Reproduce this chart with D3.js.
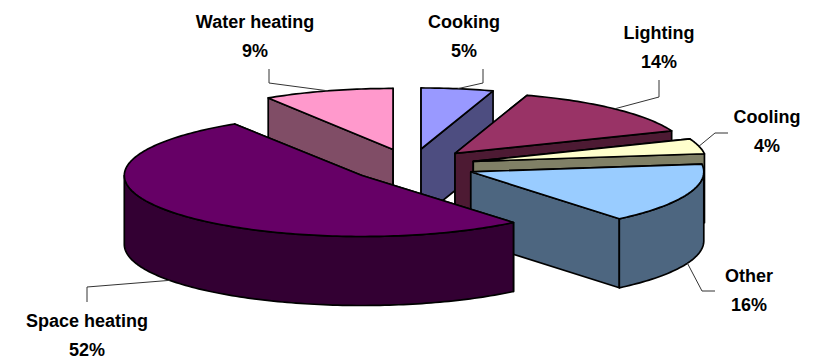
<!DOCTYPE html>
<html>
<head>
<meta charset="utf-8">
<script src="https://cdn.jsdelivr.net/npm/d3@7"></script>
<style>
html,body{margin:0;padding:0;background:#fff}
svg{display:block}
text{font-family:"Liberation Sans",Arial,sans-serif;font-weight:bold;font-size:18px;fill:#000;text-anchor:middle}
</style>
</head>
<body>
<svg id="chart" width="817" height="361"></svg>
<script>
// Household energy use by end use, clockwise from twelve o'clock
const categories = ["Cooking", "Lighting", "Cooling", "Other", "Space heating", "Water heating"];
const shares = [5, 14, 4, 16, 52, 9];
const topColors = ["#9999ff", "#993366", "#ffffcc", "#99ccff", "#660066", "#ff99cc"];

const W = 817, H = 361;
const radiusX = 233, radiusY = 61;
const centerX = 411, centerY = 165.6;
const depth = 69;
const explode = 0.276;
// The large slice nearest the viewer reads slightly wider under perspective
const nearSlice = "Space heating", nearWiden = 1.02, nearShift = 3;

// Unit-circle coordinates onto the tilted plane of the pie
const px = d3.scaleLinear().domain([-1, 1]).range([centerX - radiusX, centerX + radiusX]);
const py = d3.scaleLinear().domain([-1, 1]).range([centerY - radiusY, centerY + radiusY]);

const pie = d3.pie().sort(null).value(d => d).startAngle(0).endAngle(2 * Math.PI);
const arcs = pie(shares).map((a, i) => {
  const mid = (a.startAngle + a.endAngle) / 2;
  const near = categories[i] === nearSlice;
  return {
    i, name: categories[i], value: a.data, color: topColors[i],
    a0: a.startAngle, a1: a.endAngle, mid,
    ox: explode * Math.sin(mid), oy: -explode * Math.cos(mid),
    widen: near ? nearWiden : 1, shift: near ? nearShift : 0
  };
});

function point(s, r, ang, drop) {
  return [
    px(s.ox + s.widen * r * Math.sin(ang)) + s.shift,
    py(s.oy - r * Math.cos(ang)) + (drop || 0)
  ];
}
function rim(s, from, to, drop) {
  const n = Math.max(2, Math.ceil((to - from) / 0.02));
  return d3.range(n + 1).map(k => point(s, 1, from + (to - from) * k / n, drop));
}
const line = d3.line();
const closed = pts => line(pts) + "Z";

// Side faces are the top colour at half brightness
function shade(c) {
  const r = d3.rgb(c);
  return d3.rgb(r.r * 0.5, r.g * 0.5, r.b * 0.5).formatHex();
}

const svg = d3.select("#chart");

// Painter's order: rear slices first, the big front slice last
const order = [5, 0, 1, 2, 3, 4].map(i => arcs[i]);
const groups = svg.selectAll("g.slice").data(order).join("g").attr("class", "slice")
  .attr("stroke", "#000").attr("stroke-width", 1.7).attr("stroke-linejoin", "round");

groups.each(function (s) {
  const g = d3.select(this);
  const side = shade(s.color);
  const apex = point(s, 0, 0), apexLow = point(s, 0, 0, depth);
  [s.a0, s.a1].forEach(ang => {
    g.append("path").attr("fill", side).attr("d", closed([
      apex, point(s, 1, ang), point(s, 1, ang, depth), apexLow
    ]));
  });
  const from = Math.max(s.a0, Math.PI / 2), to = Math.min(s.a1, 3 * Math.PI / 2);
  if (to > from) {
    g.append("path").attr("fill", side)
      .attr("d", closed(rim(s, from, to, 0).concat(rim(s, from, to, depth).reverse())));
  }
  g.append("path").attr("fill", s.color)
    .attr("d", closed([apex].concat(rim(s, s.a0, s.a1, 0))));
});

// Callouts: elbow point, label centre and first baseline for each slice
const elbows = [
  [[483, 83], [483, 69]],
  [[659, 97], [659, 80]],
  [[715, 133], [728, 133]],
  [[702, 291], [715, 291]],
  [[87, 287], [87, 302]],
  [[269, 83], [269, 69]]
];
const labelX = [464, 659, 767, 749, 87, 255];
const labelY = [28, 39, 123, 282, 327, 28];
const lineGap = 29;

const leaderDrop = s => (Math.cos(s.mid) < 0 ? depth : 0);
svg.selectAll("path.leader").data(arcs).join("path").attr("class", "leader")
  .attr("fill", "none").attr("stroke", "#333").attr("stroke-width", 1)
  .attr("d", s => line([point(s, 1, s.mid, leaderDrop(s))].concat(elbows[s.i])));

const labels = svg.selectAll("text.label").data(arcs).join("text").attr("class", "label");
labels.append("tspan").attr("x", s => labelX[s.i]).attr("y", s => labelY[s.i]).text(s => s.name);
labels.append("tspan").attr("x", s => labelX[s.i]).attr("y", s => labelY[s.i] + lineGap).text(s => s.value + "%");
</script>
</body>
</html>
